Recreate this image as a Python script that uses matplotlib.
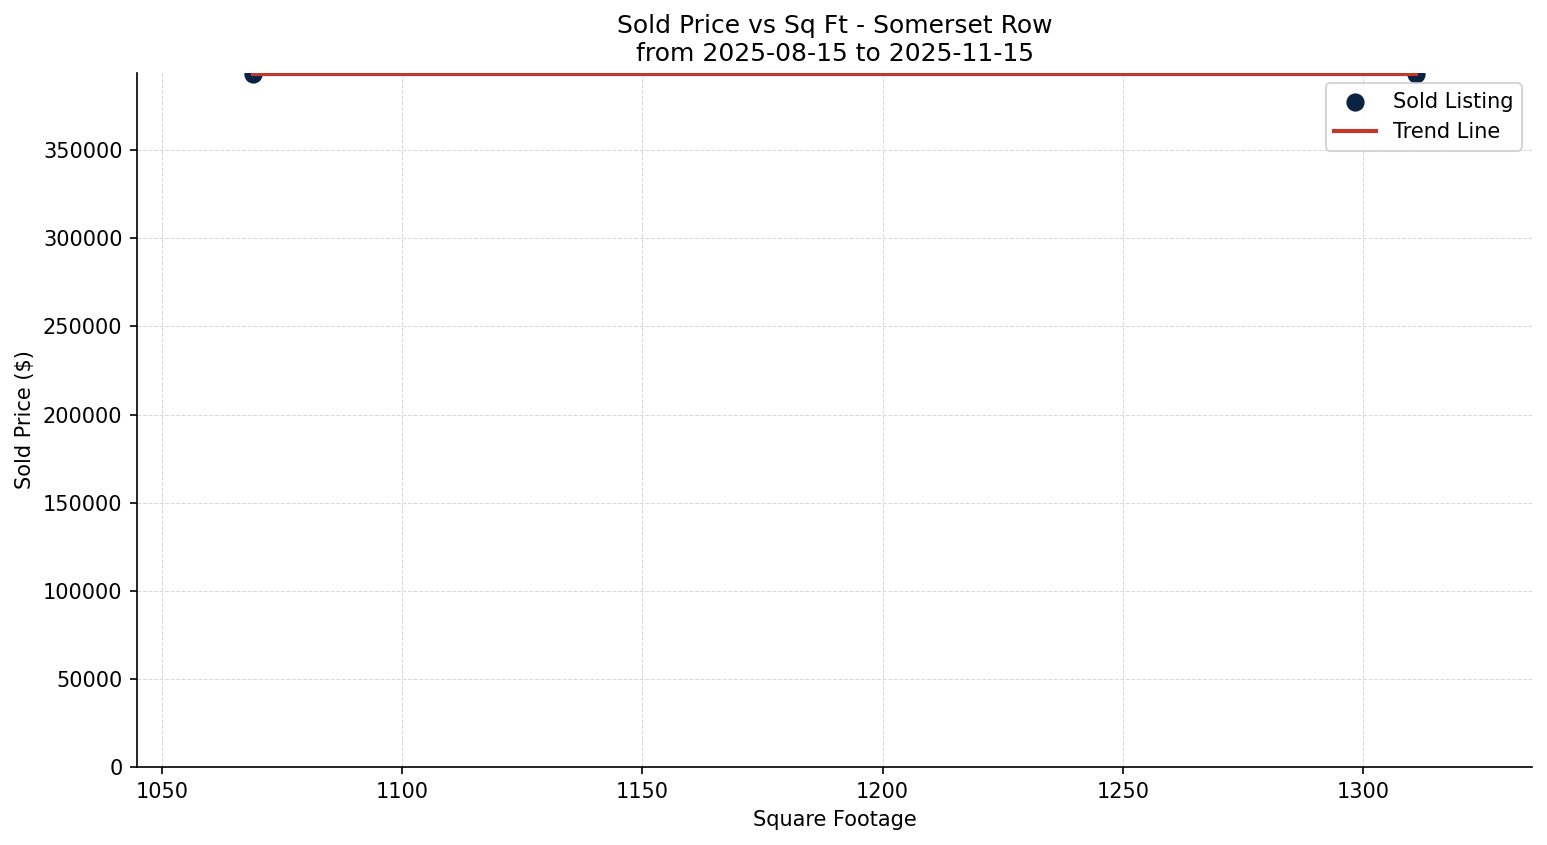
import numpy as np
import matplotlib
matplotlib.use("Agg")
import matplotlib.pyplot as plt

# sold listings - Somerset Row
sq_ft = [1069, 1311]
sold_price = [393000, 393000]
start_date = "2025-08-15"
end_date = "2025-11-15"
community = "Somerset Row"

x = np.array(sq_ft, dtype=float)
y = np.array(sold_price, dtype=float)

fig, ax = plt.subplots(figsize=(1547 / 150, 845 / 150), dpi=150)

ax.scatter(x, y, s=60, color="#0b2342", label="Sold Listing")

# trend line
slope, intercept = np.polyfit(x, y, 1)
xs = np.array([x.min(), x.max()])
ax.plot(xs, slope * xs + intercept, color="#c0392b", linewidth=2, label="Trend Line")

span = x.max() - x.min()
ax.set_xlim(x.min() - 0.1 * span, x.max() + 0.1 * span)
ax.set_ylim(0, y.max() * 1.002)

ax.set_title(f"Sold Price vs Sq Ft - {community}\nfrom {start_date} to {end_date}", fontsize=12)
ax.set_xlabel("Square Footage")
ax.set_ylabel("Sold Price ($)")
ax.grid(True, linestyle="--", linewidth=0.5, color="#d0d0d0", alpha=0.8)
ax.set_axisbelow(True)
ax.spines["top"].set_visible(False)
ax.spines["right"].set_visible(False)
ax.legend(loc="upper right")

fig.subplots_adjust(left=0.0886, right=0.9903, top=0.9136, bottom=0.0923)
fig.savefig("out.png", dpi=150)
